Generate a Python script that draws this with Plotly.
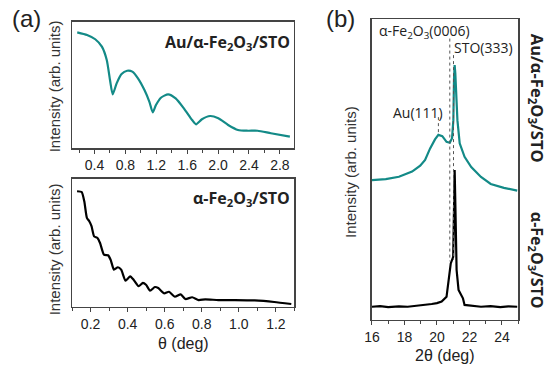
import plotly.graph_objects as go

# ---- Data ----
# (a) top: Au/alpha-Fe2O3/STO reflectivity (theta deg, arb. intensity)
au_theta = [0.177, 0.304, 0.41, 0.496, 0.559, 0.601, 0.636, 0.687, 0.751, 0.823, 0.890, 0.963,
            1.047, 1.111, 1.154, 1.196, 1.260, 1.353, 1.451, 1.557, 1.664, 1.715, 1.791, 1.897,
            2.003, 2.13, 2.257, 2.385, 2.512, 2.683, 2.929]
au_int = [91.8, 89.7, 86.3, 80.4, 69.8, 54.0, 42.6, 51.3, 58.7, 61.3, 60.6, 55.3,
          46.0, 36.7, 28.3, 34.1, 39.9, 42.6, 39.4, 31.5, 22.2, 18.8, 22.8, 25.4,
          23.6, 18.3, 14.3, 13.7, 13.7, 11.7, 9.0]

# (a) bottom: alpha-Fe2O3/STO reflectivity
fe_theta = [0.127, 0.152, 0.166, 0.180, 0.193, 0.205, 0.219, 0.237, 0.251, 0.272, 0.294, 0.308,
            0.326, 0.347, 0.365, 0.388, 0.414, 0.432, 0.459, 0.482, 0.499, 0.521, 0.547, 0.565,
            0.597, 0.623, 0.655, 0.686, 0.712, 0.748, 0.783, 0.819, 0.889, 0.978, 1.085, 1.191, 1.283]
fe_int = [90.4, 89.8, 82.5, 69.5, 66.9, 63.0, 55.1, 53.8, 49.9, 40.7, 40.3, 36.8,
          29.0, 30.9, 29.0, 20.4, 23.8, 21.1, 16.0, 18.6, 17.2, 12.5, 15.4, 14.6,
          10.5, 11.7, 7.8, 9.7, 6.0, 7.4, 5.2, 5.8, 5.2, 5.2, 4.9, 3.7, 2.1]

# (b) XRD 2theta scans
au_2th = [16.0, 16.85, 17.66, 18.47, 18.97, 19.27, 19.58, 19.88, 20.09, 20.33, 20.59, 20.79,
          20.93, 21.01, 21.05, 21.09, 21.13, 21.18, 21.26, 21.40, 21.70, 22.11, 22.71, 23.31,
          24.12, 24.94]
au_xrd = [46.5, 46.8, 47.6, 49.3, 51.3, 53.2, 57.0, 60.0, 61.5, 61.1, 59.2, 58.9,
          60.4, 66.4, 80.0, 84.7, 82.0, 77.5, 66.4, 58.7, 54.2, 50.8, 47.5, 45.2,
          43.9, 43.0]

fe_2th = [16.0, 16.5, 17.0, 17.66, 18.2, 18.87, 19.3, 19.68, 20.0, 20.29, 20.59, 20.73, 20.85,
          21.0, 21.06, 21.09, 21.12, 21.15, 21.21, 21.33, 21.60, 21.70, 22.2, 22.71, 23.3,
          23.9, 24.4, 24.94]
fe_xrd = [4.4, 4.6, 4.3, 4.5, 4.4, 4.7, 5.0, 5.3, 5.6, 6.1, 7.7, 14.4, 18.8,
          21.0, 34.3, 49.8, 42.0, 34.3, 16.6, 10.0, 7.2, 5.0, 4.6, 4.4, 4.6,
          4.3, 4.5, 4.4]

TEAL = "#138a87"
AX = "#444444"
FONT = "Liberation Sans, Arial, sans-serif"
BFONT = "Open Sans, Noto Sans, sans-serif"

fig = go.Figure()
fig.add_trace(go.Scatter(x=au_theta, y=au_int, mode="lines", line=dict(color=TEAL, width=2.2, shape="spline", smoothing=0.6),
                         xaxis="x", yaxis="y", showlegend=False))
fig.add_trace(go.Scatter(x=fe_theta, y=fe_int, mode="lines", line=dict(color="black", width=2.2, shape="spline", smoothing=0.5),
                         xaxis="x2", yaxis="y2", showlegend=False))
fig.add_trace(go.Scatter(x=au_2th, y=au_xrd, mode="lines", line=dict(color=TEAL, width=2.2),
                         xaxis="x3", yaxis="y3", showlegend=False))
fig.add_trace(go.Scatter(x=fe_2th, y=fe_xrd, mode="lines", line=dict(color="black", width=2.2),
                         xaxis="x3", yaxis="y3", showlegend=False))

# dotted reference lines in (b)
dot = dict(color="#555555", width=1, dash="dot")
fig.add_trace(go.Scatter(x=[20.09, 20.09], y=[67.4, 62.3], mode="lines", line=dot, xaxis="x3", yaxis="y3", showlegend=False))
fig.add_trace(go.Scatter(x=[20.79, 20.79], y=[93.5, 19.5], mode="lines", line=dot, xaxis="x3", yaxis="y3", showlegend=False))
fig.add_trace(go.Scatter(x=[21.02, 21.02], y=[88.0, 20.0], mode="lines", line=dot, xaxis="x3", yaxis="y3", showlegend=False))

def xax(domain, rng, dtick, minor, anchor):
    return dict(domain=domain, range=rng, dtick=dtick, tick0=0, anchor=anchor,
                showline=True, linecolor=AX, linewidth=1.5, mirror=True,
                ticks="outside", ticklen=4, tickcolor=AX, tickwidth=1,
                minor=dict(dtick=minor, ticks="outside", ticklen=3, tickcolor=AX),
                showgrid=False, zeroline=False,
                tickfont=dict(family=FONT, size=14, color="#222"))

def yax(domain, anchor):
    return dict(domain=domain, range=[0, 100], anchor=anchor, showline=True, linecolor=AX,
                linewidth=1.5, mirror=True, showticklabels=False, ticks="", showgrid=False, zeroline=False)

fig.update_layout(
    width=550, height=367, margin=dict(l=0, r=0, t=0, b=0),
    paper_bgcolor="white", plot_bgcolor="white",
    xaxis=xax([0.1182, 0.5273], [0.11, 2.98], 0.4, 0.2, "y") | dict(tickformat=".1f"),
    yaxis=yax([0.5967, 0.9401], "x"),
    xaxis2=xax([0.1182, 0.5285], [0.1, 1.30], 0.2, 0.1, "y2") | dict(tickformat=".1f"),
    yaxis2=yax([0.1643, 0.5123], "x2"),
    xaxis3=xax([0.6715, 0.9413], [16, 25], 2, 1, "y3"),
    yaxis3=yax([0.1281, 0.9482], "x3"),
)

ann = []
def A(text, x, y, size, xanchor="center", yanchor="middle", angle=0, bold=False, family=FONT, color="#222"):
    t = f"<b>{text}</b>" if bold else text
    ann.append(dict(text=t, x=x, y=y, xref="paper", yref="paper", xanchor=xanchor, yanchor=yanchor,
                    textangle=angle, showarrow=False, font=dict(family=family, size=size, color=color)))

A("(a)", 2/550, 1 - 18/367, 24, xanchor="left")
A("(b)", 321/550, 1 - 18/367, 24, xanchor="left")
A("Intensity (arb. units)", 47/550, 1 - 86/367, 15, angle=-90, color="#333")
A("Intensity (arb. units)", 47/550, 1 - 249/367, 15, angle=-90, color="#333")
A("Intensity (arb. units)", 347/550, 1 - 172/367, 15, angle=-90, color="#333")
A("θ (deg)", 178/550, 1 - 343/367, 16)
A("2θ (deg)", 443/550, 1 - 355/367, 16)
A("Au/α-Fe<sub>2</sub>O<sub>3</sub>/STO", 288/550, 1 - 42/367, 16, xanchor="right", bold=True, family=BFONT)
A("α-Fe<sub>2</sub>O<sub>3</sub>/STO", 288/550, 1 - 198/367, 16, xanchor="right", bold=True, family=BFONT)
A("Au/α-Fe<sub>2</sub>O<sub>3</sub>/STO", 537/550, 1 - 98/367, 16.5, angle=90, bold=True, family=BFONT)
A("α-Fe<sub>2</sub>O<sub>3</sub>/STO", 537/550, 1 - 260/367, 16, angle=90, bold=True, family=BFONT)
A("α-Fe<sub>2</sub>O<sub>3</sub>(0006)", 374/550, 1 - 32/367, 14, xanchor="left", family=BFONT)
A("STO(333)", 451/550, 1 - 47/367, 14, xanchor="left", family=BFONT)
A("Au(111)", 416/550, 1 - 112/367, 14, family=BFONT)
fig.update_layout(annotations=ann)

fig.write_html("out.html", config={"displayModeBar": False, "staticPlot": True},
               post_script="document.body.style.margin='0';document.body.style.padding='0';")
